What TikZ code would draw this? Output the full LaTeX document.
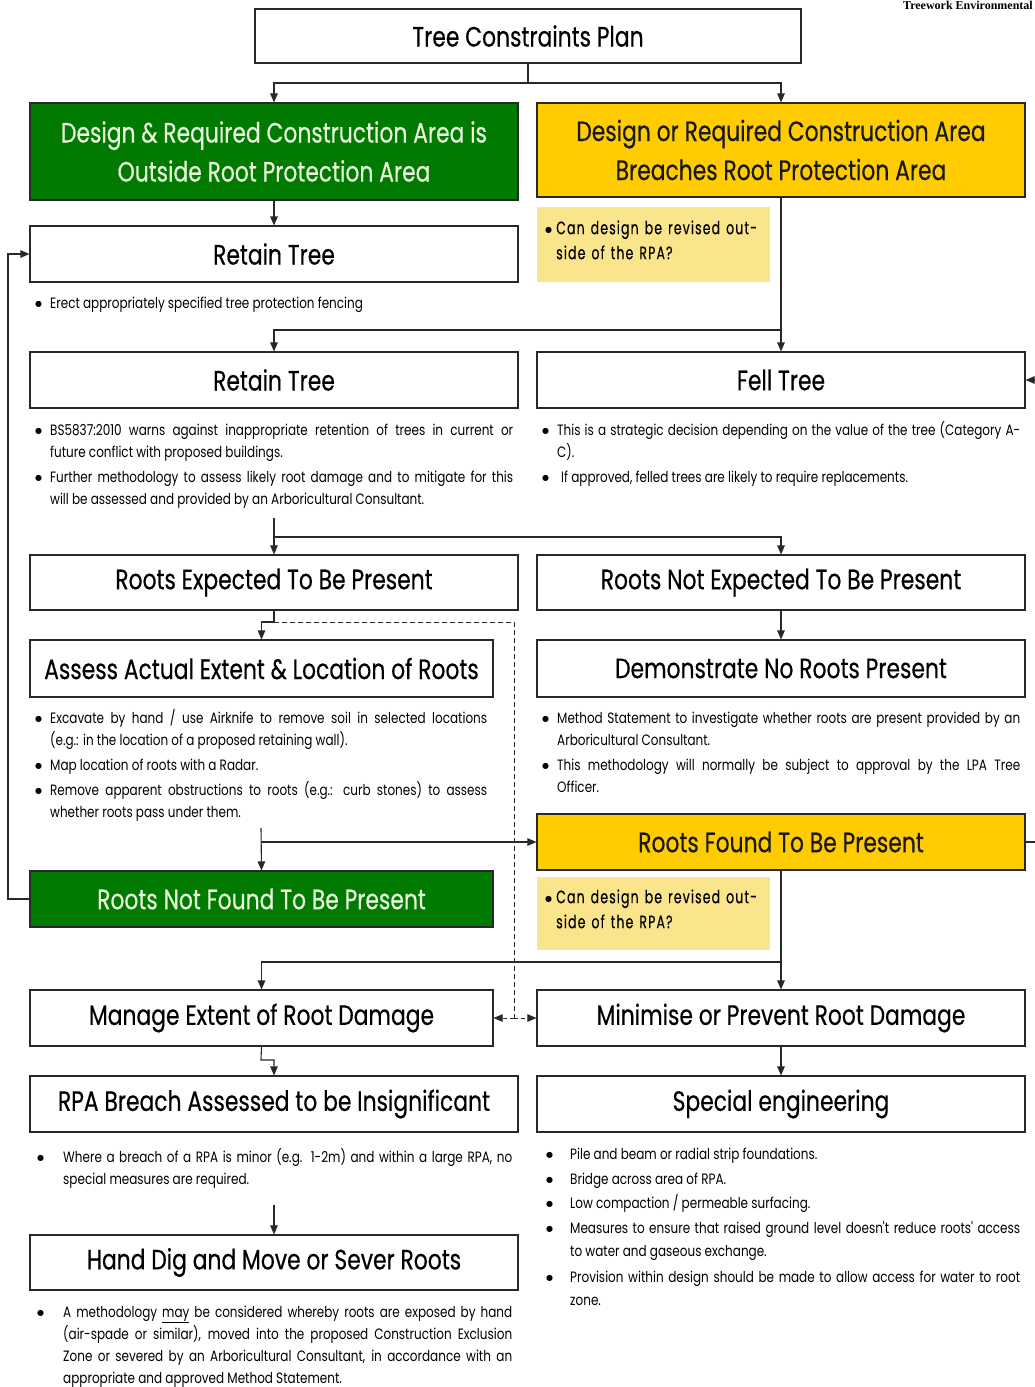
\documentclass[tikz,border=0pt]{standalone}
\usepackage{fontspec}
\setmainfont{Poppins}
\newfontfamily\tfont[FakeStretch=0.78,FakeBold=0.4]{Poppins}
\newfontfamily\bfont[FakeStretch=0.8]{Poppins}
\newfontfamily\nfont[FakeStretch=0.7,LetterSpace=6,FakeBold=0.3]{Poppins}
\newfontfamily\serifb{Liberation Serif}
\newfontfamily\djv{DejaVu Sans}
\usetikzlibrary{arrows.meta}
\definecolor{dgreen}{RGB}{0,122,0}
\definecolor{gtext}{RGB}{232,246,220}
\definecolor{ybox}{RGB}{255,204,0}
\definecolor{ynote}{RGB}{250,228,140}
\definecolor{lcol}{RGB}{40,40,40}
\setlength{\lineskip}{0pt}
\newlength{\bhang}
\newlength{\bgapl}
\setlength{\bgapl}{2.5pt}
\newcommand{\bulletmark}{\raisebox{2.2pt}{\djv\fontsize{8}{8}\selectfont ●}}
\newcommand{\bitem}[2][15pt]{\par\noindent\setlength{\bhang}{\linewidth}\addtolength{\bhang}{-#1}\makebox[#1][l]{\strut\bulletmark}\parbox[t]{\bhang}{\setlength{\parindent}{0pt}\strut#2\strut}\par}
\newcommand{\bgap}{\par\vspace{\bgapl}}
\tikzset{
  box/.style={draw=lcol, line width=1.1pt, inner sep=0pt, align=center,
    font=\tfont\fontsize{28}{39}\selectfont},
  wbox/.style={box, fill=white},
  gbox/.style={box, fill=dgreen, text=gtext},
  ybox/.style={box, fill=ybox, text=black!90},
  notebg/.style={fill=ynote},
  note/.style={anchor=north west, inner xsep=8pt, inner ysep=0pt, align=left,
    text width=217pt, font=\nfont\fontsize{18}{25}\selectfont},
  bul/.style={anchor=north west, inner sep=0pt, align=justify,
    font=\bfont\fontsize{15}{22}\selectfont},
  arr/.style={draw=lcol, line width=1.1pt, -{Triangle[length=9pt,width=7.5pt]}},
  ln/.style={draw=lcol, line width=1.1pt},
}
\begin{document}
\begin{tikzpicture}[x=1pt,y=-1pt]
\useasboundingbox (0,0) rectangle (1035,1387);
\node[anchor=north east, inner sep=0pt, font=\serifb\bfseries\fontsize{12}{12}\selectfont] (brand) at (1033,0.5) {Treework Environmental};

% note backgrounds
\fill[notebg] (537,207) rectangle (770,282);
\fill[notebg] (537,877) rectangle (770,950);

% boxes
\node[wbox, minimum width=546pt, minimum height=54pt] (tcp) at (528,36) {Tree Constraints Plan};
\node[gbox, minimum width=488pt, minimum height=97pt] (dA) at (274,151.5) {Design \& Required Construction Area is\\Outside Root Protection Area};
\node[ybox, minimum width=488pt, minimum height=94pt] (dB) at (781,150) {Design or Required Construction Area\\Breaches Root Protection Area};
\node[wbox, minimum width=488pt, minimum height=56pt] (rt1) at (274,254) {Retain Tree};
\node[note] (n1) at (537,209) {\bitem[11pt]{Can design be revised out-\newline side of the RPA?}};
\node[wbox, minimum width=488pt, minimum height=56pt] (rt2) at (274,380) {Retain Tree};
\node[wbox, minimum width=488pt, minimum height=56pt] (fell) at (781,380) {Fell Tree};
\node[wbox, minimum width=488pt, minimum height=55pt] (re) at (274,582.5) {Roots Expected To Be Present};
\node[wbox, minimum width=488pt, minimum height=55pt] (rne) at (781,582.5) {Roots Not Expected To Be Present};
\node[wbox, minimum width=463pt, minimum height=57pt] (assess) at (261.5,668.5) {Assess Actual Extent \& Location of Roots};
\node[wbox, minimum width=488pt, minimum height=57pt] (demo) at (781,668.5) {Demonstrate No Roots Present};
\node[ybox, minimum width=488pt, minimum height=56pt] (rf) at (781,842) {Roots Found To Be Present};
\node[gbox, minimum width=463pt, minimum height=56pt] (rnf) at (261.5,899) {Roots Not Found To Be Present};
\node[note] (n2) at (537,878) {\bitem[11pt]{Can design be revised out-\newline side of the RPA?}};
\node[wbox, minimum width=463pt, minimum height=56pt] (manage) at (261.5,1018) {Manage Extent of Root Damage};
\node[wbox, minimum width=488pt, minimum height=56pt] (minim) at (781,1018) {Minimise or Prevent Root Damage};
\node[wbox, minimum width=488pt, minimum height=56pt] (rpa) at (274,1104) {RPA Breach Assessed to be Insignificant};
\node[wbox, minimum width=488pt, minimum height=56pt] (spec) at (781,1104) {Special engineering};
\node[wbox, minimum width=488pt, minimum height=55pt] (hand) at (274,1262.5) {Hand Dig and Move or Sever Roots};

% bullet texts
\node[bul, text width=478pt] (t1) at (35,286) {\bitem{Erect appropriately specified tree protection fencing}};
\node[bul, text width=478pt] (t2) at (35,413) {\bitem{BS5837:2010 warns against inappropriate retention of trees in current or\linebreak future conflict with proposed buildings.}\bgap\bitem{Further methodology to assess likely root damage and to mitigate for this\linebreak will be assessed and provided by an Arboricultural Consultant.}};
\node[bul, text width=478pt] (t3) at (542,413) {\bitem{This is a strategic decision depending on the value of the tree (Category A-\linebreak C).}\bgap\bitem[19pt]{If approved, felled trees are likely to require replacements.}};
\node[bul, text width=452pt] (t4) at (35,701) {\bitem{Excavate by hand / use Airknife to remove soil in selected locations\linebreak (e.g.: in the location of a proposed retaining wall).}\bgap\bitem{Map location of roots with a Radar.}\bgap\bitem{Remove apparent obstructions to roots (e.g.: curb stones) to assess\linebreak whether roots pass under them.}};
\node[bul, text width=478pt] (t5) at (542,701) {\bitem{Method Statement to investigate whether roots are present provided by an\linebreak Arboricultural Consultant.}\bgap\bitem{This methodology will normally be subject to approval by the LPA Tree\linebreak Officer.}};
\node[bul, text width=475pt] (t6) at (37,1140) {\bitem[26pt]{Where a breach of a RPA is minor (e.g. 1-2m) and within a large RPA, no\linebreak special measures are required.}};
\node[bul, text width=474pt, font=\bfont\fontsize{15}{23.5}\selectfont\setlength{\bgapl}{1pt}] (t7) at (546,1136) {\bitem[24pt]{Pile and beam or radial strip foundations.}\bgap\bitem[24pt]{Bridge across area of RPA.}\bgap\bitem[24pt]{Low compaction / permeable surfacing.}\bgap\bitem[24pt]{Measures to ensure that raised ground level doesn't reduce roots' access\linebreak to water and gaseous exchange.}\bgap\bitem[24pt]{Provision within design should be made to allow access for water to root\linebreak zone.}};
\node[bul, text width=475pt] (t8) at (37,1295) {\bitem[26pt]{A methodology \underline{may} be considered whereby roots are exposed by hand\linebreak (air-spade or similar), moved into the proposed Construction Exclusion\linebreak Zone or severed by an Arboricultural Consultant, in accordance with an\linebreak appropriate and approved Method Statement.}};

% junction coordinates
\coordinate (j0) at (528,83);
\coordinate (j1) at (781,330);
\coordinate (j2) at (274,518);
\coordinate (j3) at (274,537);
\coordinate (j4) at (274,622);
\coordinate (j5) at (514,622);
\coordinate (j6) at (514,1018);
\coordinate (j7) at (261,828);
\coordinate (j7b) at (261,842);
\coordinate (j8) at (781,962);
\coordinate (j9) at (261,1060);
\coordinate (j10) at (274,1205);
\coordinate (fr) at (1035,380);
\coordinate (rr) at (1035,842);
\coordinate (lx) at (8,899);

% connectors
\draw[ln] (tcp.south) -- (j0);
\draw[arr] (j0) -| (dA.north);
\draw[arr] (j0) -| (dB.north);
\draw[arr] (dA.south) -- (rt1.north);
\draw[arr] (dB.south) -- (fell.north);
\draw[arr] (j1) -| (rt2.north);
\draw[arr] (fr) -- (fell.east);
\draw[arr] (j2) -- (re.north);
\draw[arr] (j3) -| (rne.north);
\draw[arr] (re.south) -- (j4) -| (assess.north);
\draw[ln, line width=0.8pt, dash pattern=on 5pt off 3pt] (j4) -- (j5) -- (j6);
\draw[arr, line width=0.8pt, dash pattern=on 4pt off 3pt] (j6) -- (minim.west);
\draw[arr, line width=0.8pt, dash pattern=on 4pt off 3pt] (j6) -- (manage.east);
\draw[arr] (rne.south) -- (demo.north);
\draw[arr] (j7) -- (rnf.north);
\draw[arr] (j7b) -- (rf.west);
\draw[ln] (rf.east) -- (rr);
\draw[arr] (rnf.west) -- (lx) |- (rt1.west);
\draw[arr] (rf.south) -- (minim.north);
\draw[arr] (j8) -| (manage.north);
\draw[arr] (manage.south) -- (j9) -| (rpa.north);
\draw[arr] (minim.south) -- (spec.north);
\draw[arr] (j10) -- (hand.north);
\end{tikzpicture}
\end{document}
